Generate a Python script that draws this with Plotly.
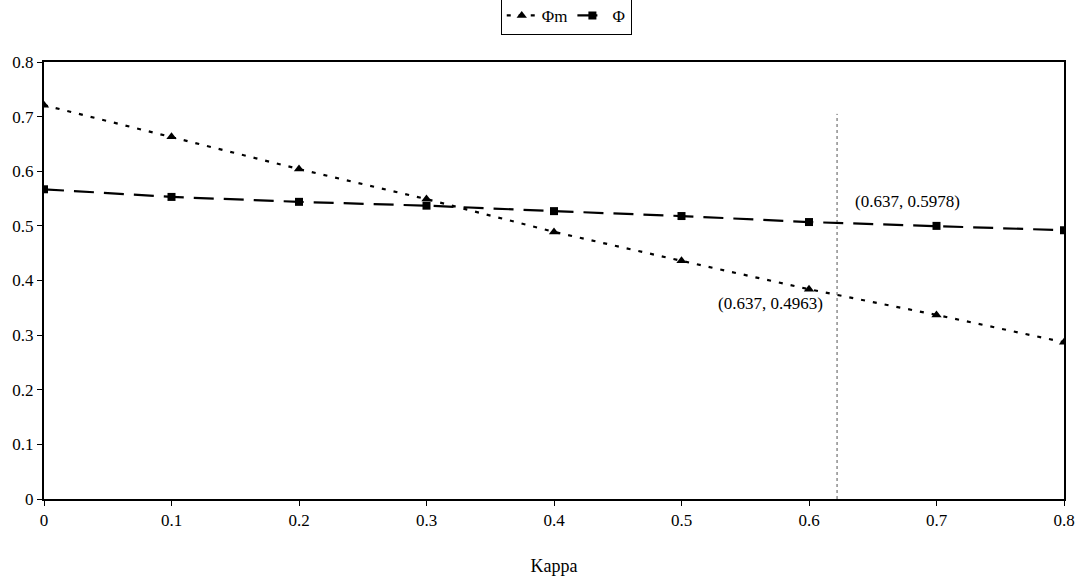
import plotly.graph_objects as go

# Kappa values and the two efficiency series
kappa = [0, 0.1, 0.2, 0.3, 0.4, 0.5, 0.6, 0.7, 0.8]
phi_m = [0.721, 0.663, 0.604, 0.549, 0.489, 0.436, 0.384, 0.337, 0.287]
phi = [0.567, 0.553, 0.544, 0.537, 0.527, 0.518, 0.507, 0.500, 0.492]

# Reference line position and point labels
kappa_line = 0.622
line_top = 0.705
label_texts = ["(0.637, 0.5978)", "(0.637, 0.4963)"]
label_x = [0.677, 0.570]
label_y = [0.545, 0.358]

x_ticks = [0, 0.1, 0.2, 0.3, 0.4, 0.5, 0.6, 0.7, 0.8]
y_ticks = [0, 0.1, 0.2, 0.3, 0.4, 0.5, 0.6, 0.7, 0.8]

FONT = "Liberation Serif"

fig = go.Figure()

fig.add_trace(go.Scatter(
    x=[kappa_line, kappa_line], y=[0, line_top], mode="lines",
    line=dict(color="#555555", width=1, dash="dot"),
    showlegend=False, hoverinfo="skip"))

fig.add_trace(go.Scatter(
    x=kappa, y=phi_m, name="Φm", mode="lines+markers",
    line=dict(color="black", width=2.2, dash="4px,8px"),
    marker=dict(symbol="triangle-up", size=9, color="black")))

fig.add_trace(go.Scatter(
    x=kappa, y=phi, name="Φ", mode="lines+markers",
    line=dict(color="black", width=2.2, dash="20px,10px"),
    marker=dict(symbol="square", size=8, color="black")))

for t, xx, yy in zip(label_texts, label_x, label_y):
    fig.add_annotation(x=xx, y=yy, text=t, showarrow=False,
                       font=dict(family=FONT, size=17, color="black"))

fig.update_layout(
    width=1082, height=582,
    margin=dict(l=44, r=18, t=62, b=83, autoexpand=False),
    paper_bgcolor="white", plot_bgcolor="white",
    font=dict(family=FONT, size=16, color="black"),
    legend=dict(orientation="h", x=0.512, xanchor="center", y=1.062, yanchor="bottom",
                bordercolor="black", borderwidth=1, tracegroupgap=0,
                font=dict(family=FONT, size=17), itemwidth=30),
    xaxis=dict(range=[0, 0.8], tickvals=x_ticks, ticktext=[f"{v:g}" for v in x_ticks],
               showgrid=False, zeroline=False, showline=True, linecolor="black",
               linewidth=2, mirror=True, ticks="outside", ticklen=5, tickcolor="black",
               title=dict(text="Kappa", font=dict(family=FONT, size=18), standoff=30),
               tickfont=dict(family=FONT, size=17)),
    yaxis=dict(range=[0, 0.8], tickvals=y_ticks, ticktext=[f"{v:g}" for v in y_ticks],
               showgrid=False, zeroline=False, showline=True, linecolor="black",
               linewidth=2, mirror=True, ticks="outside", ticklen=5, tickcolor="black",
               tickfont=dict(family=FONT, size=17)),
)

fig.write_html("out.html")
